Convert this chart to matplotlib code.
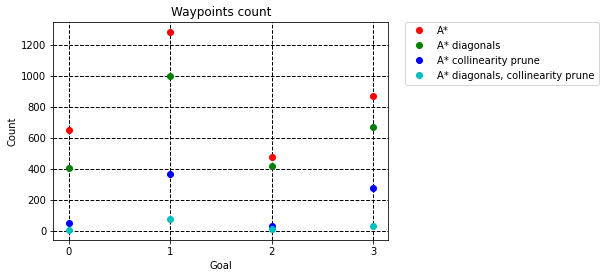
import matplotlib

matplotlib.use("Agg")

import matplotlib.pyplot as plt

goals = [0, 1, 2, 3]
astar = [653, 1286, 480, 873]
astar_diag = [407, 1000, 420, 672]
astar_prune = [54, 368, 34, 278]
astar_diag_prune = [6, 79, 13, 34]

series = [
    (astar, "ro", "A*"),
    (astar_diag, "go", "A* diagonals"),
    (astar_prune, "bo", "A* collinearity prune"),
    (astar_diag_prune, "co", "A* diagonals, collinearity prune"),
]

fig = plt.figure(figsize=(605 / 72, 278 / 72), dpi=72)
ax = fig.add_axes([0.0881, 0.1367, 0.5538, 0.7842])

for values, fmt, label in series:
    ax.plot(goals, values, fmt, label=label)

ax.set_title("Waypoints count", fontsize=12)
ax.set_xlabel("Goal")
ax.set_ylabel("Count")
ax.set_xticks(goals)
ax.grid(True, color="black", linestyle="--", linewidth=1)
ax.legend(bbox_to_anchor=(1.05, 1), loc=2, borderaxespad=0.0)

fig.savefig("out.png", dpi=72)
